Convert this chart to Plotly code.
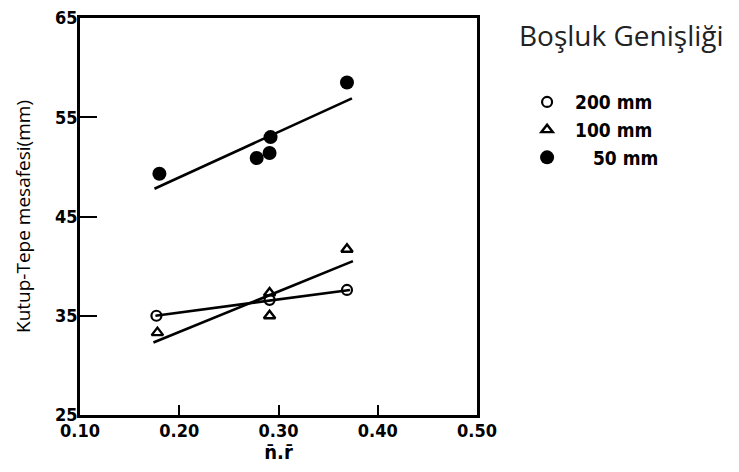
import plotly.graph_objects as go

# data
x_200 = [0.177, 0.291, 0.369]
y_200 = [35.0, 36.6, 37.6]
x_100 = [0.178, 0.291, 0.291, 0.369]
y_100 = [33.3, 37.3, 35.0, 41.7]
x_50 = [0.18, 0.278, 0.291, 0.292, 0.369]
y_50 = [49.3, 50.9, 51.4, 53.0, 58.5]

fit_x_200 = [0.176, 0.372]
fit_y_200 = [35.0, 37.6]
fit_x_100 = [0.174, 0.375]
fit_y_100 = [32.3, 40.5]
fit_x_50 = [0.175, 0.374]
fit_y_50 = [47.8, 56.9]

x_ticks = [0.10, 0.20, 0.30, 0.40, 0.50]
x_tick_labels = ["0.10", "0.20", "0.30", "0.40", "0.50"]
y_ticks = [25, 35, 45, 55, 65]
y_tick_labels = ["25", "35", "45", "55", "65"]

legend_names = ["200 mm", "100 mm", "\u00a0\u00a0\u00a050 mm"]

fig = go.Figure()
line_style = dict(color="black", width=2.6)
for fx, fy in [(fit_x_200, fit_y_200), (fit_x_100, fit_y_100), (fit_x_50, fit_y_50)]:
    fig.add_trace(go.Scatter(x=fx, y=fy, mode="lines", line=line_style,
                             showlegend=False, hoverinfo="skip"))

fig.add_trace(go.Scatter(x=x_200, y=y_200, mode="markers", name=legend_names[0],
                         marker=dict(symbol="circle-open", size=10, color="black",
                                     line=dict(width=2.2, color="black"))))
fig.add_trace(go.Scatter(x=x_100, y=y_100, mode="markers", name=legend_names[1],
                         marker=dict(symbol="triangle-up-open", size=10, color="black",
                                     line=dict(width=2.4, color="black"))))
fig.add_trace(go.Scatter(x=x_50, y=y_50, mode="markers", name=legend_names[2],
                         marker=dict(symbol="circle", size=14, color="black")))

tick_font = dict(family="Liberation Sans Narrow, DejaVu Sans Condensed, Liberation Sans, sans-serif",
                 size=18, color="black", weight="bold")

fig.update_xaxes(range=[0.10, 0.50], tickvals=x_ticks, ticktext=x_tick_labels,
                 showgrid=False, zeroline=False, showline=True, mirror=True,
                 linecolor="black", linewidth=2.8, ticks="inside", ticklen=10,
                 tickwidth=2, tickcolor="black", tickfont=tick_font,
                 ticklabelstandoff=-3, automargin=False, ticklabeloverflow="allow",
                 title=dict(text="n\u0304.r\u0304", font=dict(tick_font, size=20), standoff=2))
fig.update_yaxes(range=[25, 65], tickvals=y_ticks, ticktext=y_tick_labels,
                 showgrid=False, zeroline=False, showline=True, mirror=True,
                 linecolor="black", linewidth=2.8, ticks="inside", ticklen=17,
                 tickwidth=2.2, tickcolor="black", tickfont=tick_font,
                 ticklabelstandoff=-4, automargin=False, ticklabeloverflow="allow",
                 title=dict(text="Kutup-Tepe mesafesi(mm)",
                            font=dict(family="Open Sans, Noto Sans, sans-serif", size=19, color="black"),
                            standoff=20))

fig.add_annotation(text="Boşluk Genişliği", xref="paper", yref="paper",
                   x=1.101, y=0.957, xanchor="left", yanchor="middle", showarrow=False,
                   font=dict(family="Open Sans, Noto Sans, sans-serif", size=28, color="#222"))

fig.update_layout(
    width=723, height=456,
    margin=dict(l=72, r=254, t=10, b=49),
    paper_bgcolor="white", plot_bgcolor="white",
    legend=dict(x=1.106, y=0.836, xanchor="left", yanchor="top",
                font=dict(family="Liberation Sans Narrow, DejaVu Sans Condensed, Liberation Sans, sans-serif",
                          size=19, color="black", weight="bold"),
                itemwidth=46, tracegroupgap=0, bgcolor="rgba(0,0,0,0)"),
    showlegend=True,
)

fig.write_html("out.html")
